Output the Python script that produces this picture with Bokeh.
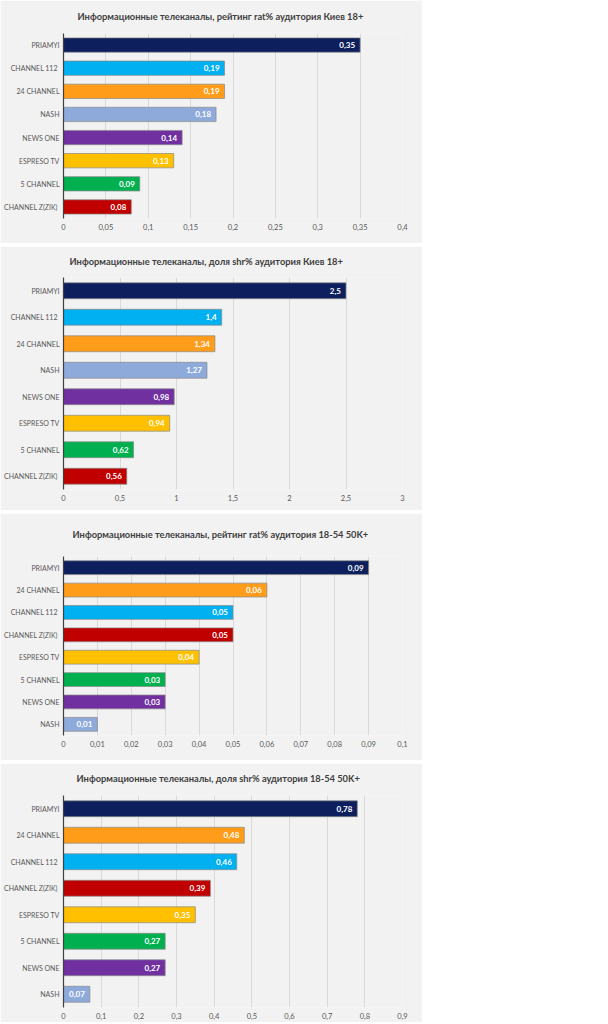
from bokeh.plotting import figure
from bokeh.models import FactorRange, Range1d, FixedTicker, ColumnDataSource, CustomJSTickFormatter
from bokeh.layouts import column
from bokeh.embed import file_html
from bokeh.resources import INLINE
from bokeh.core.properties import value

FONT = "Lato"

channel_colors = {
    "PRIAMYI": "#0d1f5c",
    "CHANNEL  112": "#00b0f0",
    "24 CHANNEL": "#ff9c1a",
    "NASH": "#8eaadb",
    "NEWS ONE": "#7030a0",
    "ESPRESO TV": "#ffc000",
    "5 CHANNEL": "#00b050",
    "CHANNEL  Z(ZIK)": "#c00000",
}

title1 = "Информационные телеканалы, рейтинг rat% аудитория Киев 18+"
cats1 = ["PRIAMYI", "CHANNEL  112", "24 CHANNEL", "NASH", "NEWS ONE", "ESPRESO TV", "5 CHANNEL", "CHANNEL  Z(ZIK)"]
vals1 = [0.35, 0.19, 0.19, 0.18, 0.14, 0.13, 0.09, 0.08]
ticks1 = [0, 0.05, 0.1, 0.15, 0.2, 0.25, 0.3, 0.35, 0.4]

title2 = "Информационные телеканалы, доля shr% аудитория Киев 18+"
cats2 = ["PRIAMYI", "CHANNEL  112", "24 CHANNEL", "NASH", "NEWS ONE", "ESPRESO TV", "5 CHANNEL", "CHANNEL  Z(ZIK)"]
vals2 = [2.5, 1.4, 1.34, 1.27, 0.98, 0.94, 0.62, 0.56]
ticks2 = [0, 0.5, 1, 1.5, 2, 2.5, 3]

title3 = "Информационные телеканалы, рейтинг rat% аудитория 18-54 50K+"
cats3 = ["PRIAMYI", "24 CHANNEL", "CHANNEL  112", "CHANNEL  Z(ZIK)", "ESPRESO TV", "5 CHANNEL", "NEWS ONE", "NASH"]
vals3 = [0.09, 0.06, 0.05, 0.05, 0.04, 0.03, 0.03, 0.01]
ticks3 = [0, 0.01, 0.02, 0.03, 0.04, 0.05, 0.06, 0.07, 0.08, 0.09, 0.1]

title4 = "Информационные телеканалы, доля shr% аудитория 18-54 50K+"
cats4 = ["PRIAMYI", "24 CHANNEL", "CHANNEL  112", "CHANNEL  Z(ZIK)", "ESPRESO TV", "5 CHANNEL", "NEWS ONE", "NASH"]
vals4 = [0.78, 0.48, 0.46, 0.39, 0.35, 0.27, 0.27, 0.07]
ticks4 = [0, 0.1, 0.2, 0.3, 0.4, 0.5, 0.6, 0.7, 0.8, 0.9]


def fmt(v):
    return f"{v:g}".replace(".", ",")


W = 422


def make(title, cats, vals, ticks, height, top, bottom, left, right, bar_h,
         t_standoff, t_offset):
    src = ColumnDataSource(dict(
        cat=cats,
        val=vals,
        lab=[fmt(v) for v in vals],
        color=[channel_colors[c] for c in cats],
    ))
    p = figure(width=W, height=height,
               y_range=FactorRange(*list(reversed(cats))),
               x_range=Range1d(ticks[0], ticks[-1]),
               output_backend="svg", toolbar_location=None,
               min_border_top=top, min_border_bottom=bottom,
               min_border_right=right, min_border_left=left)
    p.title.text = title
    p.title.text_font = FONT
    p.title.text_font_size = "9.3px"
    p.title.text_font_style = "bold"
    p.title.text_color = "#404040"
    p.title.align = "left"
    p.title.vertical_align = "top"
    p.title.standoff = t_standoff
    p.title.offset = t_offset

    p.background_fill_color = "#f2f2f2"
    p.border_fill_color = "#f2f2f2"
    p.outline_line_color = None

    p.hbar(y="cat", left=0, right="val", height=bar_h, fill_color="color",
           line_color="#8a8a8a", line_width=0.7, source=src)
    p.text(x="val", y="cat", text="lab", x_offset=-5, text_align="right",
           text_baseline="middle", text_color="white", text_font_size="8px",
           text_font_style="bold", text_font=value(FONT), source=src)

    ticker = FixedTicker(ticks=ticks)
    p.xaxis.ticker = ticker
    p.xaxis.formatter = CustomJSTickFormatter(code="return tick.toString().replace('.', ',');")
    p.xaxis.axis_line_color = None
    p.xaxis.major_tick_line_color = None
    p.xaxis.minor_tick_line_color = None
    p.xaxis.major_tick_out = 0
    p.xaxis.major_tick_in = 0
    p.xaxis.major_label_text_font = FONT
    p.xaxis.major_label_text_font_size = "7.5px"
    p.xaxis.major_label_text_color = "#595959"
    p.xaxis.major_label_standoff = 5

    p.yaxis.axis_line_color = "#404040"
    p.yaxis.axis_line_width = 1.2
    p.yaxis.major_tick_line_color = None
    p.yaxis.minor_tick_line_color = None
    p.yaxis.major_tick_out = 0
    p.yaxis.major_tick_in = 0
    p.yaxis.major_label_text_font = FONT
    p.yaxis.major_label_text_font_size = "7px"
    p.yaxis.major_label_text_color = "#595959"
    p.yaxis.major_label_standoff = 4

    p.xgrid.ticker = ticker
    p.xgrid.grid_line_color = "#d9d9d9"
    p.ygrid.grid_line_color = None
    return p


p1 = make(title1, cats1, vals1, ticks1, 243, 32, 25, 63, 18, 0.62, 20, 14)
p2 = make(title2, cats2, vals2, ticks2, 264, 31, 21, 62, 12, 0.6, 17, 6)
p3 = make(title3, cats3, vals3, ticks3, 247, 43, 25, 63, 20, 0.62, 30, 9)
p4 = make(title4, cats4, vals4, ticks4, 259, 31, 15, 61, 16, 0.6, 19, 13)

layout = column(p1, p2, p3, p4, spacing=3)

open("out.html", "w").write(file_html(layout, INLINE))
